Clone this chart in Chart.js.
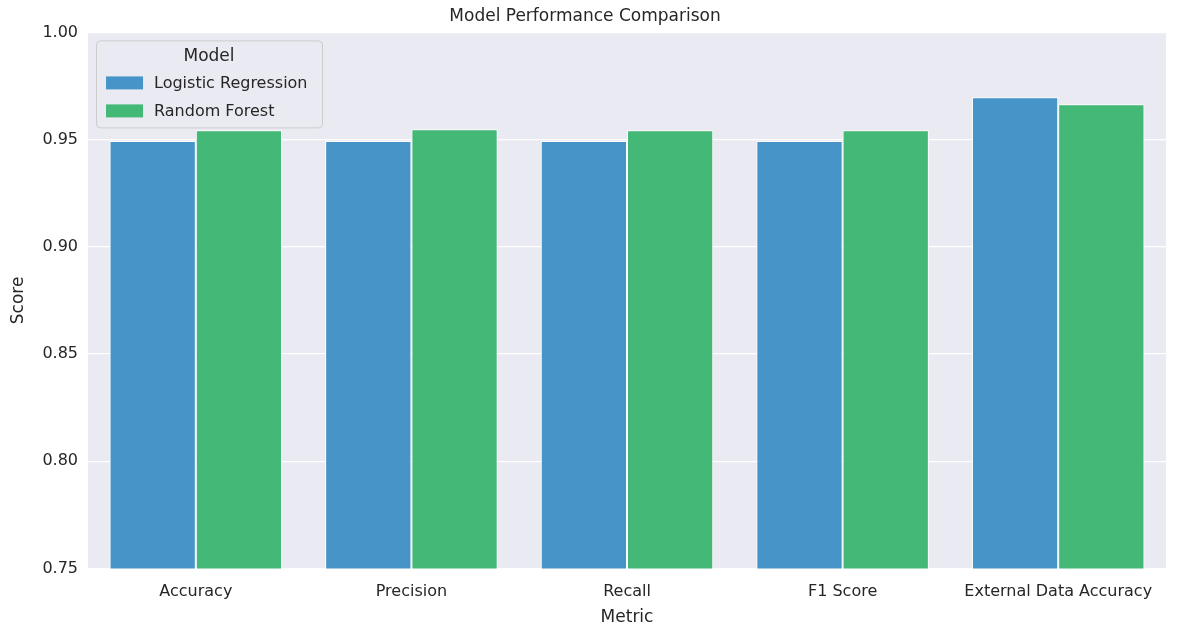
<!DOCTYPE html>
<html>
<head>
<meta charset="utf-8">
<script src="https://cdn.jsdelivr.net/npm/chart.js@4/dist/chart.umd.min.js"></script>
<style>
  html, body { margin: 0; padding: 0; background: #fff; }
  #wrap { width: 1178px; height: 638px; }
</style>
</head>
<body>
<div id="wrap"><canvas id="bar-chart"></canvas></div>
<script>
// chart data
var metrics = ['Accuracy', 'Precision', 'Recall', 'F1 Score', 'External Data Accuracy']
var logisticRegression = [0.9493, 0.9493, 0.9493, 0.9493, 0.9697]
var randomForest = [0.9544, 0.9548, 0.9544, 0.9544, 0.9665]
var yTicks = [0.75, 0.80, 0.85, 0.90, 0.95, 1.00]

var fontFamily = "'DejaVu Sans', Arial, sans-serif"
var textColor = '#262626'

// grey plot background like seaborn darkgrid
var plotBackground = {
    id: 'plotBackground',
    beforeDraw: function(chart) {
        var a = chart.chartArea, ctx = chart.ctx
        ctx.save()
        ctx.fillStyle = '#eaeaf2'
        ctx.fillRect(a.left, a.top, a.right - a.left, a.bottom - a.top)
        ctx.restore()
    }
}

// legend box drawn inside the plot, top left
var insideLegend = {
    id: 'insideLegend',
    afterDraw: function(chart) {
        var a = chart.chartArea, ctx = chart.ctx
        var x = a.left + 8, y = a.top + 8, w = 226, h = 87
        ctx.save()
        ctx.fillStyle = 'rgba(234,234,242,0.85)'
        ctx.strokeStyle = '#cccccc'
        ctx.lineWidth = 1
        ctx.beginPath()
        ctx.roundRect(x + 0.5, y + 0.5, w, h, 4)
        ctx.fill()
        ctx.stroke()
        ctx.fillStyle = textColor
        ctx.font = '17px ' + fontFamily
        ctx.textAlign = 'center'
        ctx.textBaseline = 'middle'
        ctx.fillText('Model', x + w / 2, y + 16)
        ctx.textAlign = 'left'
        ctx.font = '16px ' + fontFamily
        chart.data.datasets.forEach(function(ds, i) {
            var ly = y + 43 + i * 28
            ctx.fillStyle = ds.backgroundColor
            ctx.fillRect(x + 10, ly - 7, 37, 13)
            ctx.fillStyle = textColor
            ctx.fillText(ds.label, x + 58, ly)
        })
        ctx.restore()
    }
}

new Chart(document.getElementById('bar-chart'), {
    type: 'bar',
    data: {
        labels: metrics,
        datasets: [
            {
                label: 'Logistic Regression',
                data: logisticRegression,
                backgroundColor: '#4795c8',
                borderColor: '#ffffff',
                borderWidth: 1
            },
            {
                label: 'Random Forest',
                data: randomForest,
                backgroundColor: '#43b877',
                borderColor: '#ffffff',
                borderWidth: 1
            }
        ]
    },
    options: {
        responsive: true,
        maintainAspectRatio: false,
        animation: false,
        categoryPercentage: 0.8,
        barPercentage: 1.0,
        layout: { padding: { left: 4, right: 12, top: 0, bottom: 6 } },
        plugins: {
            legend: { display: false },
            tooltip: { enabled: false },
            title: {
                display: true,
                text: 'Model Performance Comparison',
                color: textColor,
                font: { family: fontFamily, size: 17, weight: 'normal' },
                padding: { top: 6, bottom: 6 }
            }
        },
        scales: {
            x: {
                grid: { display: false },
                border: { display: false },
                ticks: { color: textColor, font: { family: fontFamily, size: 16 }, padding: 6 },
                title: {
                    display: true, text: 'Metric', color: textColor,
                    font: { family: fontFamily, size: 17 }, padding: { top: 0 }
                }
            },
            y: {
                min: 0.75,
                max: 1.0,
                afterBuildTicks: function(axis) {
                    axis.ticks = yTicks.map(function(v) { return { value: v } })
                },
                grid: { color: '#ffffff', lineWidth: 1.2, drawTicks: false },
                border: { display: false },
                ticks: {
                    color: textColor,
                    font: { family: fontFamily, size: 16 },
                    padding: 10,
                    callback: function(value) { return value.toFixed(2) }
                },
                title: {
                    display: true, text: 'Score', color: textColor,
                    font: { family: fontFamily, size: 17 }, padding: { bottom: 4 }
                }
            }
        }
    },
    plugins: [plotBackground, insideLegend]
})
</script>
</body>
</html>
